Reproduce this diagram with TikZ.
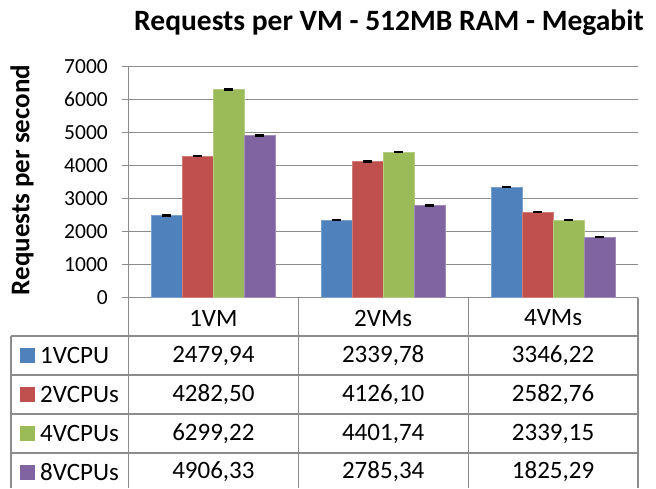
\documentclass[tikz,border=0pt]{standalone}
\usepackage{fontspec}
\setmainfont{Carlito}
\definecolor{cpuA}{HTML}{4F81BD}
\definecolor{cpuB}{HTML}{C0504D}
\definecolor{cpuC}{HTML}{9BBB59}
\definecolor{cpuD}{HTML}{8064A2}
\definecolor{gridgray}{HTML}{8C8C8C}
\begin{document}
\begin{tikzpicture}[x=1pt,y=1pt,
    gridline/.style={gridgray, line width=1.2pt},
    bar/.style={fill=#1, draw=#1!75!white, line width=0.6pt},
    errcap/.style={black, line width=2.4pt},
    celltext/.style={font=\fontsize{25}{25}\selectfont, inner sep=0pt},
    ticktext/.style={font=\fontsize{21.5}{21.5}\selectfont, anchor=east, inner sep=0pt}]
  \useasboundingbox (0,0) rectangle (656,488);
  % title and axis label
  \node[font=\bfseries\fontsize{29.5}{29.5}\selectfont, inner sep=0pt] (title) at (389,465) {Requests per VM - 512MB RAM - Megabit};
  \node[font=\bfseries\fontsize{27}{27}\selectfont, rotate=90, inner sep=0pt] (ylabel) at (22,308) {Requests per second};
  % grid and ticks
  \foreach \k in {0,...,7} {
    \draw[gridline] (122,190.5+33*\k) -- (638,190.5+33*\k);
    \node[ticktext] (tick\k) at (108,190.5+33*\k) {\the\numexpr\k*1000\relax};
  }
  \draw[gridline] (128.5,421.5) -- (128.5,0);
  % bars
  \foreach \i/\va/\vb/\vc/\vd in {0/2479.94/4282.50/6299.22/4906.33,
                                  1/2339.78/4126.10/4401.74/2785.34,
                                  2/3346.22/2582.76/2339.15/1825.29} {
    \pgfmathsetmacro{\c}{128.5+169.83*(\i+0.5)}
    \filldraw[bar=cpuA] (\c-62,190.5) rectangle (\c-31,190.5+\va*0.033);
    \filldraw[bar=cpuB] (\c-31,190.5) rectangle (\c,190.5+\vb*0.033);
    \filldraw[bar=cpuC] (\c,190.5) rectangle (\c+31,190.5+\vc*0.033);
    \filldraw[bar=cpuD] (\c+31,190.5) rectangle (\c+62,190.5+\vd*0.033);
    \draw[errcap] (\c-51,190.5+\va*0.033) -- (\c-42,190.5+\va*0.033);
    \draw[errcap] (\c-20,190.5+\vb*0.033) -- (\c-11,190.5+\vb*0.033);
    \draw[errcap] (\c+11,190.5+\vc*0.033) -- (\c+20,190.5+\vc*0.033);
    \draw[errcap] (\c+42,190.5+\vd*0.033) -- (\c+51,190.5+\vd*0.033);
  }
  % data table
  \foreach \y in {152,113,74,35}
    \draw[gridline] (11,\y) -- (638,\y);
  \draw[gridline] (11,152) -- (11,0);
  \foreach \x in {298.3,468.2,638}
    \draw[gridline] (\x,190.5) -- (\x,0);
  \node[celltext] (head0) at (213.4,170) {1VM};
  \node[celltext] (head1) at (383.2,170) {2VMs};
  \node[celltext] (head2) at (553.1,170) {4VMs};
  \foreach \r/\y/\col/\name/\a/\b/\cc in {{1/132.5/cpuA/1VCPU/2479,94/2339,78/3346,22},
                                          {2/93.5/cpuB/2VCPUs/4282,50/4126,10/2582,76},
                                          {3/54.5/cpuC/4VCPUs/6299,22/4401,74/2339,15},
                                          {4/16/cpuD/8VCPUs/4906,33/2785,34/1825,29}} {
    \fill[\col] (20,\y-7.5) rectangle (35,\y+7.5);
    \node[celltext, anchor=west] (name\r) at (40,\y) {\name};
    \node[celltext] (val\r-a) at (213.4,\y) {\a};
    \node[celltext] (val\r-b) at (383.2,\y) {\b};
    \node[celltext] (val\r-c) at (553.1,\y) {\cc};
  }
\end{tikzpicture}
\end{document}
